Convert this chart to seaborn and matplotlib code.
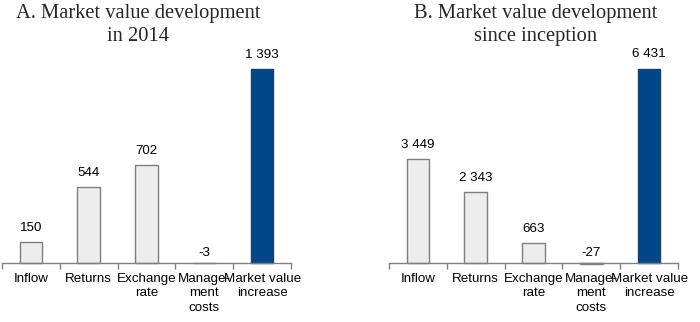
import matplotlib
matplotlib.use("Agg")
import matplotlib.pyplot as plt
import seaborn as sns
import pandas as pd
import numpy as np

categories = ["Inflow", "Returns", "Exchange\nrate", "Manage-\nment\ncosts", "Market value\nincrease"]
values_2014 = [150, 544, 702, -3, 1393]
values_inception = [3449, 2343, 663, -27, 6431]
labels_2014 = ["150", "544", "702", "-3", "1 393"]
labels_inception = ["3 449", "2 343", "663", "-27", "6 431"]
titles = ["A. Market value development\nin 2014", "B. Market value development\nsince inception"]

sns.set_theme(style="white")
plt.rcParams["font.family"] = ["Liberation Sans", "DejaVu Sans"]

light = "#EDEDED"
dark = "#00478A"
light_edge = "#7F7F7F"
dark_edge = "#1C3F66"
palette = [light, light, light, light, dark]
edges = [light_edge] * 4 + [dark_edge]

W, H = 700, 322
fig = plt.figure(figsize=(7, 3.22), dpi=100)

base = 263
top = 60
fs = 9.6
axes_specs = [
    (2, 291, values_2014, labels_2014, 203 / 0.139, 138),
    (389, 678, values_inception, labels_inception, 203 / 0.0302, 536),
]

for (x0, x1, vals, labs, ymax, tx), title in zip(axes_specs, titles):
    ax = fig.add_axes([x0 / W, (H - base) / H, (x1 - x0) / W, (base - top) / H])
    df = pd.DataFrame({"cat": categories, "val": vals})
    sns.barplot(data=df, x="cat", y="val", hue="cat", palette=palette,
                legend=False, width=0.39, ax=ax, linewidth=1.0, saturation=1)
    for p, ec in zip(ax.patches, edges):
        p.set_edgecolor(ec)
        p.set_clip_on(False)
    ax.set_ylim(0, ymax)
    ax.set_xlim(-0.5, len(categories) - 0.5)
    for i, (v, lab) in enumerate(zip(vals, labs)):
        if v >= 0:
            ax.annotate(lab, (i, v), xytext=(0, 6), textcoords="offset points",
                        ha="center", va="bottom", fontsize=fs, color="#000000")
        else:
            ax.annotate(lab, (i, 0), xytext=(0, 3), textcoords="offset points",
                        ha="center", va="bottom", fontsize=fs, color="#000000")
    ax.set_xlabel("")
    ax.set_ylabel("")
    ax.set_yticks([])
    ax.set_xticks(range(len(categories)))
    ax.set_xticklabels(categories, fontsize=fs, color="#000000", linespacing=1.3)
    ax.tick_params(axis="x", which="major", length=0, pad=7)
    ax.set_xticks(np.arange(-0.5, len(categories)), minor=True)
    ax.tick_params(axis="x", which="minor", length=4, width=1, color="#808080", direction="out")
    ax.xaxis.set_ticks_position("bottom")
    for s in ["left", "right", "top"]:
        ax.spines[s].set_visible(False)
    ax.spines["bottom"].set_color("#808080")
    ax.spines["bottom"].set_linewidth(1)
    ax.patch.set_alpha(0)
    fig.text(tx / W, 1 - 4 / H, title, ha="center", va="top", fontsize=14.8,
             family=["Liberation Serif", "DejaVu Serif"], linespacing=1.3)

fig.savefig("out.png", dpi=100)
